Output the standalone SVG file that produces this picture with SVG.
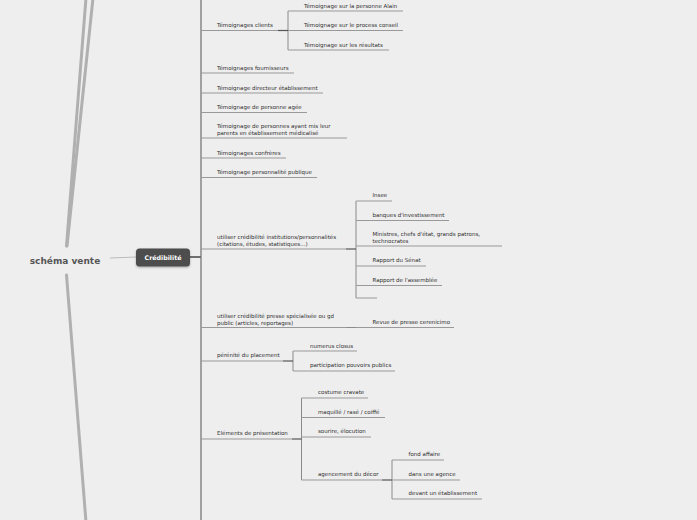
<svg xmlns="http://www.w3.org/2000/svg" width="697" height="520" viewBox="0 0 697 520">
<style>
.bg{fill:#eeeeee}
.t{font-family:"DejaVu Sans",Verdana,sans-serif;font-size:5.5px;fill:#2e2e2e}
.ul{stroke:#999999;stroke-width:1;fill:none}
.br{stroke:#8a8a8a;stroke-width:1;fill:none}
.dk{stroke:#555555;stroke-width:1.2;fill:none}
.trunk{stroke:#b0b0b0;stroke-width:3;fill:none;stroke-linecap:round}
</style>
<defs>
<filter id="sh" x="-20%" y="-20%" width="140%" height="160%">
<feDropShadow dx="0" dy="1" stdDeviation="0.8" flood-color="#000" flood-opacity="0.3"/>
</filter>
</defs>
<rect class="bg" x="0" y="0" width="697" height="520"/>
<g id="connectors">
<line class="trunk" x1="86" y1="-2" x2="66.5" y2="246"/>
<line class="trunk" x1="93" y1="-2" x2="67" y2="246" stroke-width="2.5"/>
<line class="trunk" x1="66.5" y1="275" x2="86" y2="522"/>
<line x1="110" y1="258" x2="136" y2="257" stroke="#bbbbbb" stroke-width="1"/>
<line x1="190" y1="257" x2="201" y2="257" stroke="#444444" stroke-width="1.5"/>
<line x1="201" y1="0" x2="201" y2="520" stroke="#777777" stroke-width="1.3"/>
<polyline class="br" points="288,11 288,50"/>
<line class="dk" x1="278" y1="30.5" x2="288" y2="30.5"/>
<polyline class="br" points="356,201 356,298"/>
<line class="dk" x1="346" y1="249" x2="356" y2="249"/>
<line class="br" x1="346" y1="327.5" x2="356" y2="327.5"/>
<polyline class="br" points="293,351 293,371"/>
<line class="dk" x1="283" y1="361" x2="293" y2="361"/>
<polyline class="br" points="301.5,398 301.5,480"/>
<line class="dk" x1="292" y1="439" x2="301.5" y2="439"/>
<polyline class="br" points="392,460 392,499"/>
<line class="dk" x1="382" y1="480" x2="392" y2="480"/>
</g>
<g id="root">
<text x="65" y="263.5" text-anchor="middle" font-family="DejaVu Sans,Verdana,sans-serif" font-size="9" font-weight="bold" fill="#555555">schéma vente</text>
</g>
<g id="credibilite">
<rect x="136" y="248.5" width="54" height="18" rx="3.5" fill="#4d4d4d" filter="url(#sh)"/>
<text x="163" y="259.6" text-anchor="middle" font-family="DejaVu Sans,Verdana,sans-serif" font-size="6.3" font-weight="bold" fill="#ffffff">Crédibilité</text>
</g>
<g id="temoignages-clients"><line class="ul" x1="201" y1="30.5" x2="278" y2="30.5"/><text class="t" x="217" y="27">Témoignages clients</text></g>
<g id="tc-alain"><line class="ul" x1="288" y1="11" x2="403" y2="11"/><text class="t" x="304" y="8">Témoignage sur la personne Alain</text></g>
<g id="tc-process"><line class="ul" x1="288" y1="30.5" x2="403" y2="30.5"/><text class="t" x="304" y="27">Témoignage sur le process conseil</text></g>
<g id="tc-resultats"><line class="ul" x1="288" y1="50" x2="389" y2="50"/><text class="t" x="304" y="47">Témoignage sur les résultats</text></g>
<g id="temoignages-fournisseurs"><line class="ul" x1="201" y1="73" x2="294" y2="73"/><text class="t" x="217" y="70">Témoignages fournisseurs</text></g>
<g id="temoignage-directeur"><line class="ul" x1="201" y1="93" x2="323" y2="93"/><text class="t" x="217" y="89.5">Témoignage directeur établissement</text></g>
<g id="temoignage-agee"><line class="ul" x1="201" y1="112.5" x2="307" y2="112.5"/><text class="t" x="217" y="109">Témoignage de personne agée</text></g>
<g id="temoignage-parents"><line class="ul" x1="201" y1="138" x2="347" y2="138"/><text class="t" x="217" y="128">Témoignage de personnes ayant mis leur</text><text class="t" x="217" y="135">parents en établissement médicalisé</text></g>
<g id="temoignages-confreres"><line class="ul" x1="201" y1="158" x2="286" y2="158"/><text class="t" x="217" y="154.5">Témoignages confrères</text></g>
<g id="temoignage-personnalite"><line class="ul" x1="201" y1="177.5" x2="317" y2="177.5"/><text class="t" x="217" y="174">Témoignage personnalité publique</text></g>
<g id="institutions"><line class="ul" x1="201" y1="249" x2="346" y2="249"/><text class="t" x="217" y="239">utiliser crédibilité institutions/personnalités</text><text class="t" x="217" y="245.5">(citations, études, statistiques...)</text></g>
<g id="insee"><line class="ul" x1="356" y1="201" x2="392" y2="201"/><text class="t" x="372.5" y="197">Insee</text></g>
<g id="banques"><line class="ul" x1="356" y1="220.5" x2="449" y2="220.5"/><text class="t" x="372.5" y="217">banques d'investissement</text></g>
<g id="ministres"><line class="ul" x1="356" y1="246" x2="502" y2="246"/><text class="t" x="372.5" y="235.5">Ministres, chefs d'état, grands patrons,</text><text class="t" x="372.5" y="243">technocrates</text></g>
<g id="senat"><line class="ul" x1="356" y1="266" x2="426" y2="266"/><text class="t" x="372.5" y="262">Rapport du Sénat</text></g>
<g id="assemblee"><line class="ul" x1="356" y1="285.5" x2="442" y2="285.5"/><text class="t" x="372.5" y="282">Rapport de l'assemblée</text></g>
<g id="vide"><line class="ul" x1="356" y1="298" x2="377" y2="298"/></g>
<g id="presse"><line class="ul" x1="201" y1="327.5" x2="346" y2="327.5"/><text class="t" x="217" y="318">utiliser crédibilité presse spécialisée ou gd</text><text class="t" x="217" y="325">public (articles, reportages)</text></g>
<g id="revue"><line class="ul" x1="356" y1="327.5" x2="454" y2="327.5"/><text class="t" x="372.5" y="324">Revue de presse cerenicimo</text></g>
<g id="perennite"><line class="ul" x1="201" y1="361" x2="283" y2="361"/><text class="t" x="217" y="357">pérénité du placement</text></g>
<g id="numerus"><line class="ul" x1="293" y1="351" x2="357" y2="351"/><text class="t" x="310" y="347.5">numerus closus</text></g>
<g id="participation"><line class="ul" x1="293" y1="371" x2="395" y2="371"/><text class="t" x="310" y="367">participation pouvoirs publics</text></g>
<g id="elements"><line class="ul" x1="201" y1="439" x2="292" y2="439"/><text class="t" x="217" y="435">Eléments de présentation</text></g>
<g id="costume"><line class="ul" x1="301.5" y1="398" x2="368" y2="398"/><text class="t" x="318" y="394">costume cravate</text></g>
<g id="maquille"><line class="ul" x1="301.5" y1="417.5" x2="385" y2="417.5"/><text class="t" x="318" y="414">maquillé / rasé / coiffé</text></g>
<g id="sourire"><line class="ul" x1="301.5" y1="437" x2="371" y2="437"/><text class="t" x="318" y="433">sourire, élocution</text></g>
<g id="agencement"><line class="ul" x1="301.5" y1="480" x2="382" y2="480"/><text class="t" x="318" y="476">agencement du décor</text></g>
<g id="fond"><line class="ul" x1="392" y1="460" x2="444" y2="460"/><text class="t" x="408.5" y="456">fond affaire</text></g>
<g id="agence"><line class="ul" x1="392" y1="480" x2="460" y2="480"/><text class="t" x="408.5" y="476">dans une agence</text></g>
<g id="devant"><line class="ul" x1="392" y1="499" x2="482" y2="499"/><text class="t" x="408.5" y="495">devant un établissement</text></g>
</svg>
